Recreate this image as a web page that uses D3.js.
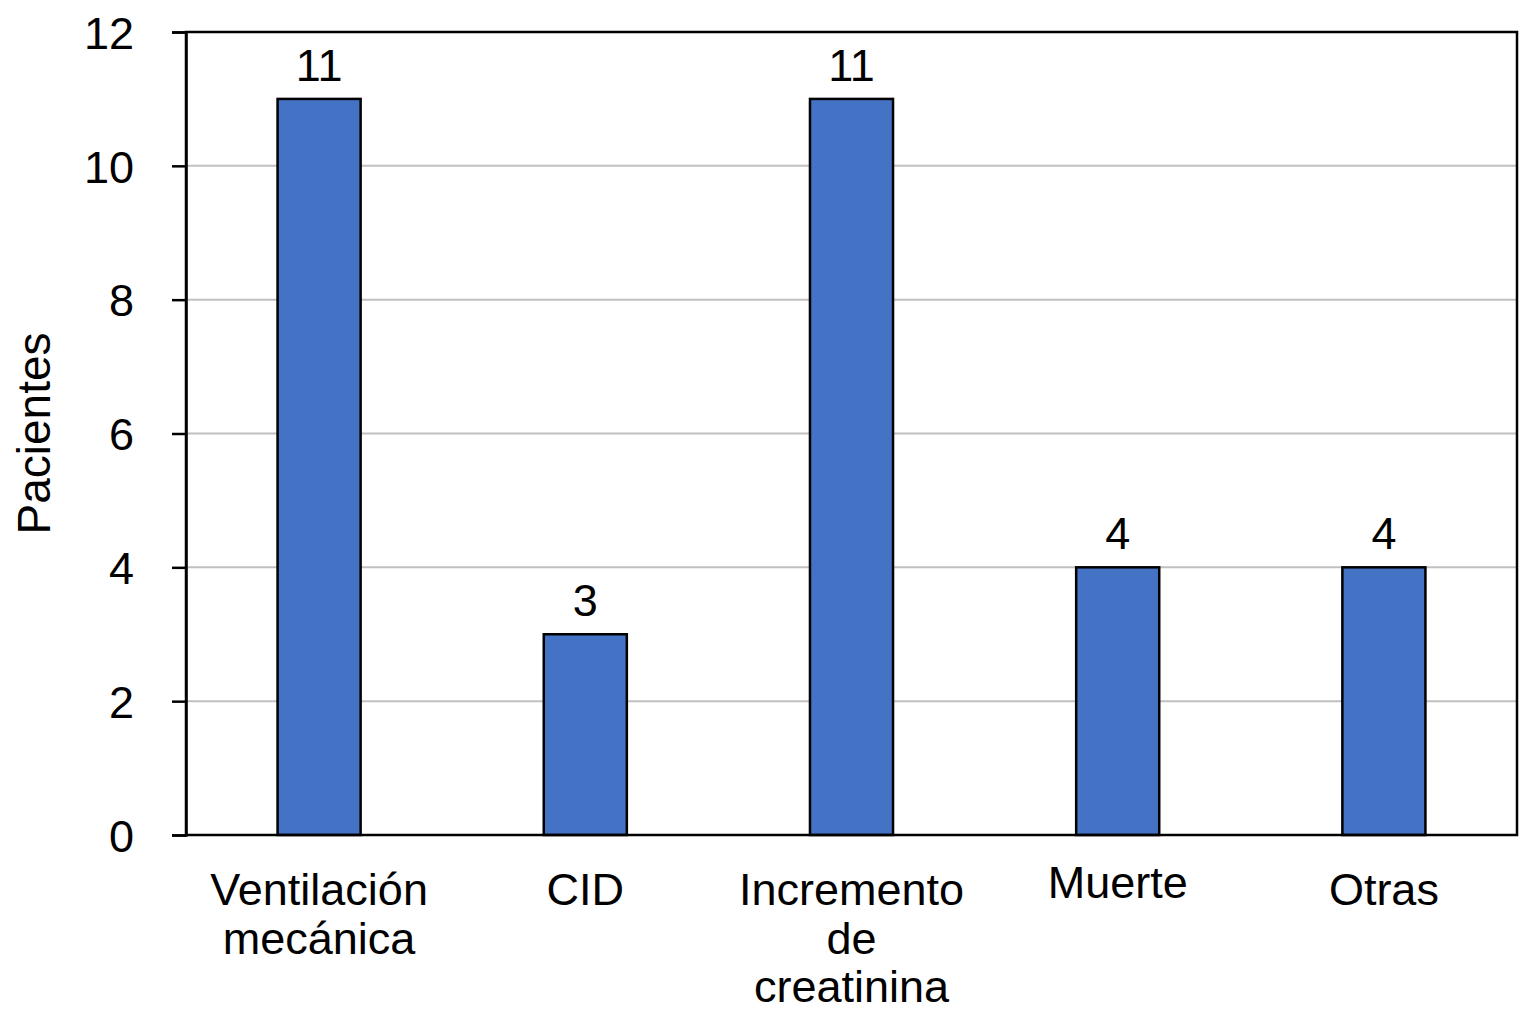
<!DOCTYPE html>
<html>
<head>
<meta charset="utf-8">
<script src="https://cdn.jsdelivr.net/npm/d3@7"></script>
<style>
  body { margin: 0; background: #fff; }
  text { font-family: "Liberation Sans", Arial, sans-serif; fill: #000; }
</style>
</head>
<body>
<div id="chart"></div>
<script>
var categories = [["Ventilación", "mecánica"], ["CID"], ["Incremento", "de", "creatinina"], ["Muerte"], ["Otras"]];
var values = [11, 3, 11, 4, 4];
var yTicks = [0, 2, 4, 6, 8, 10, 12];
// per-label vertical nudge (Muerte sits a little higher in the original)
var labelShift = [0, 0, 0, -7, 0];

var W = 1520, H = 1024;
var m = { left: 186, right: 3, top: 32, bottom: 189 };
var fs = 45;

var svg = d3.select("#chart").append("svg")
    .attr("width", W)
    .attr("height", H);

var x = d3.scaleBand()
    .domain(d3.range(values.length))
    .range([m.left, W - m.right])
    .paddingInner(0.688)
    .paddingOuter(0.344);

var y = d3.scaleLinear()
    .domain([0, 12])
    .range([H - m.bottom, m.top]);

// gridlines
svg.append("g")
    .selectAll("line")
    .data(yTicks.filter(function(d){ return d > 0 && d < 12; }))
    .enter()
    .append("line")
    .attr("x1", m.left)
    .attr("x2", W - m.right)
    .attr("y1", function(d){ return y(d); })
    .attr("y2", function(d){ return y(d); })
    .attr("stroke", "#c0c0c0")
    .attr("stroke-width", 2);

// bars
svg.append("g")
    .selectAll("rect")
    .data(values)
    .enter()
    .append("rect")
    .attr("x", function(d, i){ return x(i); })
    .attr("y", function(d){ return y(d); })
    .attr("width", x.bandwidth())
    .attr("height", function(d){ return y(0) - y(d); })
    .attr("fill", "#4472C4")
    .attr("stroke", "#000")
    .attr("stroke-width", 2.5);

// value labels
svg.append("g")
    .selectAll("text")
    .data(values)
    .enter()
    .append("text")
    .attr("x", function(d, i){ return x(i) + x.bandwidth() / 2; })
    .attr("y", function(d){ return y(d) - 18; })
    .attr("text-anchor", "middle")
    .attr("font-size", fs)
    .text(function(d){ return d; });

// frame
svg.append("rect")
    .attr("x", m.left)
    .attr("y", m.top)
    .attr("width", W - m.right - m.left)
    .attr("height", y(0) - m.top)
    .attr("fill", "none")
    .attr("stroke", "#000")
    .attr("stroke-width", 2.5);

// y axis
var yAxis = svg.append("g")
    .attr("transform", "translate(" + m.left + ",0)")
    .call(d3.axisLeft(y).tickValues(yTicks).tickSize(14).tickPadding(38).tickFormat(d3.format("d")));
yAxis.select(".domain").attr("stroke", "#000").attr("stroke-width", 2.5);
yAxis.selectAll(".tick line").attr("stroke", "#000").attr("stroke-width", 2.5);
yAxis.selectAll(".tick text")
    .attr("font-size", fs)
    .attr("font-family", "Liberation Sans, Arial, sans-serif")
    .attr("fill", "#000")
    .attr("dy", "0.36em");

// x category labels
var catG = svg.append("g")
    .selectAll("text")
    .data(categories)
    .enter()
    .append("text")
    .attr("text-anchor", "middle")
    .attr("font-size", fs)
    .attr("x", function(d, i){ return x(i) + x.bandwidth() / 2; })
    .attr("y", function(d, i){ return 905 + labelShift[i]; });

catG.selectAll("tspan")
    .data(function(d){ return d; })
    .enter()
    .append("tspan")
    .attr("x", function(){ return d3.select(this.parentNode).attr("x"); })
    .attr("dy", function(d, j){ return j === 0 ? 0 : 48.5; })
    .text(function(d){ return d; });

// y title
svg.append("text")
    .attr("transform", "translate(50," + y(6) + ") rotate(-90)")
    .attr("text-anchor", "middle")
    .attr("font-size", 46)
    .text("Pacientes");
</script>
</body>
</html>
